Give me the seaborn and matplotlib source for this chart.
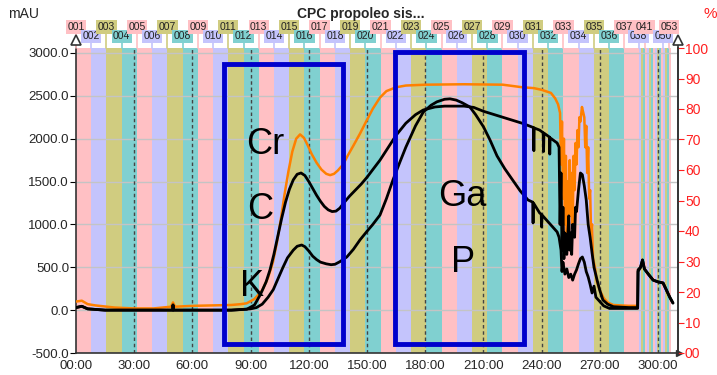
import numpy as np
import pandas as pd
import matplotlib
matplotlib.use('Agg')
import matplotlib.pyplot as plt
import matplotlib.patches as patches
import matplotlib.transforms as mtransforms
import seaborn as sns

# Traces (time in min, signal in mAU)
orange_t = [0, 3, 6, 10, 20, 30, 40, 49, 50, 51, 60, 70, 80, 85, 88, 92, 96, 99, 101.5, 103.5,
            105.5, 107.5, 109.5, 111.5, 113.5, 115.5, 117.5, 119.5, 121.5, 124, 126.5, 129, 131,
            133, 135, 137.7, 140, 143, 146.4, 150, 153, 156.7, 160, 165, 170, 180, 200,
            220, 230, 236, 240, 244.8, 247, 248.5, 249.5, 250, 250.5, 251, 251.5, 252, 252.5, 253,
            253.5, 254, 254.5, 255, 255.5, 256, 256.5, 257, 257.5, 258, 258.5, 259, 259.5, 260, 260.8,
            261.5, 262, 262.5, 263, 263.5, 264, 264.5, 265, 265.5, 266, 266.5, 267.5, 268.5, 270, 272,
            274, 277, 285, 289.5]
orange_v = [100, 110, 70, 55, 30, 20, 20, 40, 90, 40, 50, 55, 60, 70, 80, 130, 230, 380, 560, 780,
            1050, 1350, 1620, 1850, 2000, 2050, 2010, 1920, 1820, 1720, 1640, 1590, 1575,
            1590, 1630, 1700, 1800, 1920, 2060, 2220, 2350, 2480, 2555, 2600, 2620, 2630, 2635,
            2630, 2600, 2590, 2570, 2534, 2470, 2400, 2300, 1700, 2200, 1300, 2000, 1000, 1800, 900,
            1500, 1000, 1750, 1100, 1600, 950, 1800, 1400, 1950, 1700, 2100, 1900, 2250, 2200, 2370,
            2300, 2250, 1900, 2150, 1600, 1900, 1300, 1400, 900, 1000, 600, 500, 330, 230, 140,
            90, 60, 50, 50]

upper_t = [0, 3, 6, 15, 49.8, 50, 50.3, 80, 88, 92, 95, 98, 100, 102, 104, 106, 108, 110, 112, 114,
           116, 118, 120, 122, 124, 126, 128, 130, 132, 134, 136, 138, 141, 144, 147, 150, 153, 156.7,
           161, 165, 170, 175, 179, 185, 190, 200, 205, 210, 220, 230, 235.8, 236, 236.2, 239, 240.8,
           241, 241.2, 244, 244.2, 244.4, 248, 249, 249.5, 250, 250.5, 251, 251.5, 252, 253, 254, 254.5,
           255, 255.5, 256, 257, 257.5, 258, 259, 260, 261, 262, 263, 264, 265, 266, 267, 268.6, 270,
           271.6, 274, 277, 285, 289.5, 289.7, 291, 292, 293, 295, 297.5, 300, 302.6, 304, 306, 307.7]
upper_v = [30, 45, 15, 0, 0, 60, 0, 0, 10, 60, 180, 330, 470, 650, 860, 1070, 1260, 1410, 1520, 1585,
           1600, 1570, 1500, 1420, 1340, 1270, 1210, 1170, 1150, 1155, 1190, 1250, 1330, 1400, 1470,
           1550, 1640, 1750, 1900, 2040, 2180, 2280, 2335, 2370, 2380, 2380, 2365, 2320, 2250, 2180,
           2130, 1860, 2125, 2100, 2070, 1850, 2065, 2020, 1820, 2010, 1950, 1900, 1000, 1600, 700,
           1200, 600, 900, 650, 1100, 700, 900, 650, 1000, 850, 1200, 1150, 1400, 1600, 1580, 1450,
           1285, 1000, 850, 667, 500, 350, 230, 118, 70, 40, 30, 30, 470, 500, 585, 480, 420, 350,
           330, 317, 250, 153, 83]

lower_t = [0, 3, 6, 15, 49.8, 50, 50.3, 80, 90, 93, 96, 99, 101.7, 104, 106.7, 109, 112, 114, 116.3,
           118, 120, 122, 124, 126, 129, 131.5, 133.5, 136, 139.6, 143, 146.4, 150, 153, 156.7, 160,
           163.4, 167, 170, 175, 179, 183, 186, 190, 192.8, 196, 199, 203, 206, 210, 213.4, 217, 221,
           225, 229, 233, 235.4, 235.6, 235.8, 239, 239.8, 240, 240.2, 248, 249, 250, 250.5, 251, 252,
           253, 254, 255, 256, 257, 258, 259, 260, 261, 262, 263, 264, 265, 266, 267, 268, 270, 272,
           275, 289.5, 289.7, 291, 292, 293, 295, 297.5, 300, 302.6, 304, 306, 307.7]
lower_v = [30, 45, 15, 0, 0, 60, 0, 0, 15, 30, 70, 150, 240, 360, 500, 610, 700, 745, 760,
           740, 690, 630, 590, 560, 540, 530, 535, 565, 620, 710, 820, 920, 1000, 1110, 1300,
           1520, 1730, 1900, 2150, 2310, 2390, 2430, 2460, 2465, 2450, 2420, 2370, 2280, 2140, 1985,
           1800, 1650, 1520, 1390, 1285, 1260, 1017, 1250, 1133, 1120, 970, 1110, 912, 850, 700, 450,
           560, 420, 480, 380, 420, 350, 420, 470, 540, 600, 620, 560, 450, 387, 300, 200, 280, 150,
           100, 50, 20, 20, 450, 500, 585, 480, 420, 350, 330, 317, 250, 153, 83]

# Fraction collector: start times (min) and names
frac_names = ['%03d' % i for i in range(1, 54)]
frac_start = [0, 7.85, 15.7, 23.55, 31.4, 39.25, 47.1, 54.95, 62.8, 70.65, 78.5, 86.35, 94.2,
              102.05, 109.9, 117.75, 125.6, 133.45, 141.3, 149.15, 157.0, 164.85, 172.7, 180.55,
              188.4, 196.25, 204.1, 211.95, 219.8, 227.65, 235.5, 243.35, 251.2, 259.05, 266.9,
              274.75, 282.6, 290.0, 291.05, 292.1, 293.15, 294.2, 295.25, 296.3, 297.35, 298.4,
              299.45, 300.5, 301.55, 302.6, 303.65, 304.7, 305.75]
frac_end = 306.8
frac_top = ['001', '003', '005', '007', '009', '011', '013', '015', '017', '019', '021', '023', '025',
            '027', '029', '031', '033', '035', '037', '041', '053']
frac_bottom = ['002', '004', '006', '008', '010', '012', '014', '016', '018', '020', '022', '024',
               '026', '028', '030', '032', '034', '036', '038', '050']
band_colors = ['#FFC0C4', '#C4C4FC', '#D0CC80', '#80D0D0']

x_ticks = [0, 30, 60, 90, 120, 150, 180, 210, 240, 270, 300]
y_ticks = [-500, 0, 500, 1000, 1500, 2000, 2500, 3000]
pct_ticks = [0, 10, 20, 30, 40, 50, 60, 70, 80, 90, 100]

# annotations placed on the chart
labels = ['Cr', 'C', 'K', 'Ga', 'P']
label_x = [97.5, 94.8, 90.7, 199.0, 199.5]
label_y = [1930, 1170, 270, 1320, 560]

sns.set_style('white')
plt.rcParams['font.family'] = ['Liberation Sans', 'DejaVu Sans']

fig = plt.figure(figsize=(7.17, 3.75), dpi=100)
ax = fig.add_axes([76/717, 1-353/375, (678-76)/717, (353-48)/375])

# fraction bands
ends = frac_start[1:] + [frac_end]
for i, (s, e) in enumerate(zip(frac_start, ends)):
    ax.axvspan(s, e, color=band_colors[i % 4], lw=0, zorder=0)

# grid
for y in y_ticks:
    ax.axhline(y, color='#c4c4c4', lw=1, zorder=1)
for x in x_ticks[1:]:
    ax.axvline(x, color='#444444', lw=1, ls=(0, (2.5, 2)), zorder=1)

# traces
df_o = pd.DataFrame({'t': orange_t, 'v': orange_v})
df_u = pd.DataFrame({'t': upper_t, 'v': upper_v})
df_l = pd.DataFrame({'t': lower_t, 'v': lower_v})
sns.lineplot(data=df_o, x='t', y='v', ax=ax, color='#FF8000', lw=1.8, estimator=None, sort=False, zorder=3)
sns.lineplot(data=df_l, x='t', y='v', ax=ax, color='black', lw=2, estimator=None, sort=False, zorder=4)
sns.lineplot(data=df_u, x='t', y='v', ax=ax, color='black', lw=2, estimator=None, sort=False, zorder=4)

ax.set_xlim(0, 310.3)
ax.set_ylim(-500, 3058)
ax.set_xticks(x_ticks)
ax.set_xticklabels(['%02d:00' % m for m in x_ticks])
ax.set_yticks(y_ticks)
ax.set_yticklabels(['%.1f' % v for v in y_ticks])
ax.set_xlabel('')
ax.set_ylabel('')
ax.tick_params(axis='both', labelsize=9.5, length=4, direction='out', color='black', pad=1)
for side in ['top']:
    ax.spines[side].set_visible(False)
for side in ['left', 'bottom', 'right']:
    ax.spines[side].set_color('#333333')
    ax.spines[side].set_linewidth(1.2)

# highlighted regions
for (x0, x1, y0, y1) in [(76.3, 137.6, -395, 2872), (164.4, 230.9, -395, 3012)]:
    ax.add_patch(patches.Rectangle((x0, y0), x1-x0, y1-y0, fill=False, edgecolor='#0000CC',
                                   lw=3.5, zorder=6, clip_on=False))
for t, x, y in zip(labels, label_x, label_y):
    ax.text(x, y, t, fontsize=26, ha='center', va='center', color='black', zorder=7)

# right % axis
ax2 = ax.twinx()
ax2.set_ylim(0, 100)
ax2.set_yticks(pct_ticks)
ax2.set_yticklabels(['%02d' % p for p in pct_ticks])
ax2.tick_params(axis='y', labelsize=10, colors='#FF2020', length=4, pad=1)
ax2.spines['top'].set_visible(False)
ax2.spines['left'].set_visible(False)
ax2.spines['bottom'].set_visible(False)
ax2.spines['right'].set_color('#333333')
ax2.spines['right'].set_linewidth(1.2)

# axis arrows
for xa in [0, 1]:
    ax.plot([xa, xa], [1, 1.02], transform=ax.transAxes, color='#333333', lw=1.2, clip_on=False)
    ax.plot([xa], [1.025], transform=ax.transAxes, marker='^', ms=7, mfc='white', mec='#333333',
            mew=1.2, clip_on=False, zorder=8)
ax.plot([1.002], [0], transform=ax.transAxes, marker='>', ms=5, color='#333333', clip_on=False, zorder=8)

# fraction labels with stems
trans = mtransforms.blended_transform_factory(ax.transData, ax.transAxes)
for i, (name, s) in enumerate(zip(frac_names, frac_start)):
    col = band_colors[i % 4]
    if name in frac_top:
        ytxt = 1.069
    elif name in frac_bottom:
        ytxt = 1.039
    else:
        continue
    ax.plot([s, s], [1.0, ytxt], transform=trans, color=col, lw=1.2, clip_on=False, zorder=5)
    ax.text(s, ytxt, name, transform=trans, fontsize=7.5, ha='center', va='center', color='#222222',
            bbox=dict(boxstyle='square,pad=0.15', fc=col, ec='none'), zorder=9)

# headers
fig.text(8/717, 1-14/375, 'mAU', fontsize=10, ha='left', va='center')
fig.text(361/717, 1-14/375, 'CPC propoleo sis...', fontsize=10, fontweight='bold', ha='center', va='center')
fig.text(710/717, 1-14/375, '%', fontsize=11, color='#FF2020', ha='center', va='center')

plt.savefig('out.png', dpi=100)
